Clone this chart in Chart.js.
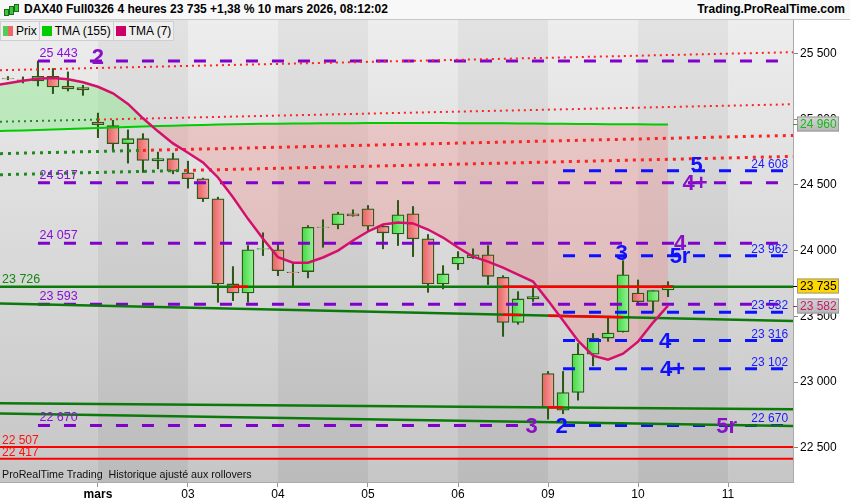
<!DOCTYPE html>
<html>
<head>
<meta charset="utf-8">
<script src="https://cdn.jsdelivr.net/npm/chart.js@4/dist/chart.umd.min.js"></script>
<style>
body { margin: 0; background: #fff; font-family: "Liberation Sans", Arial, sans-serif; }
#wrap { position: relative; width: 850px; height: 500px; overflow: hidden; }
#c { position: absolute; left: 0; top: 0; }
#head { position: absolute; left: 0; top: 0; width: 850px; height: 19px; background: #f8f8f8; border-bottom: 1px solid #c8c8c8; font-weight: bold; font-size: 12px; line-height: 19px; }
#title { position: absolute; left: 24px; top: 0; }
#site { position: absolute; right: 5px; top: 0; }
#ico { position: absolute; left: 4px; top: 4px; width: 15px; height: 12px; }
#ico i { position: absolute; width: 3px; background: #3c3; border: 1px solid #262; }
#leg { position: absolute; left: 0; top: 21px; height: 19px; display: flex; font-size: 12px; }
#leg div { height: 18px; line-height: 18px; padding: 0 2px 0 2px; background: #efefef; border: 1px solid #cfcfcf; border-left: none; display: flex; align-items: center; }
#leg div:first-child { border-left: 1px solid #cfcfcf; }
#leg i { display: inline-block; width: 10px; height: 10px; margin-right: 3px; }
#foot { position: absolute; left: 2px; top: 468px; font-size: 10.7px; white-space: pre; color: #111; }
</style>
</head>
<body>
<div id="wrap">
  <canvas id="c" width="850" height="500"></canvas>
  <div id="head">
    <span id="ico"><i style="left:0;top:5px;height:5px"></i><i style="left:5px;top:2px;height:7px"></i><i style="left:10px;top:0;height:6px"></i></span>
    <span id="title">DAX40 Full0326 4 heures 23 735 +1,38 % 10 mars 2026, 08:12:02</span>
    <span id="site">Trading.ProRealTime.com</span>
  </div>
  <div id="leg">
    <div><i style="background:linear-gradient(90deg,#5c5 50%,#e66 50%)"></i>Prix</div>
    <div><i style="background:#00cc00"></i>TMA (155)</div>
    <div><i style="background:#cc0066"></i>TMA (7)</div>
  </div>
  <div id="foot">ProRealTime Trading  Historique ajusté aux rollovers</div>
</div>
<script>
// 4h candles, index 0 = first bar on screen (ven. 27 fev)
const open  = [25310,25299,25291,25327,25251,25241, 24979,24951,24814,24852,24683,24700, 24593,24547,24395,23747,23678,24012,
               24006,23837,23841,24176,24197,24280, 24319,24186,24128,24280,24090,23747, 23899,23945,23968,23797,23454,23633,
               23065,22787,22921,23213,23335,23383, 23678,23614,23701];
const high  = [25325,25322,25443,25386,25360,25258, 25047,24992,24919,24890,24750,24742, 24681,24552,24407,23879,24039,24136,
               24046,23904,24191,24235,24293,24311, 24344,24192,24382,24336,24123,23886, 23993,24014,24039,23810,23688,23713,
               23081,23081,23294,23370,23488,23924, 23777,23696,23764];
const low   = [25300,25276,25253,25195,25215,25182, 24860,24763,24666,24595,24623,24585, 24476,24374,23607,23620,23607,23963,
               23810,23721,23793,24026,24166,24262, 24153,24014,24039,23955,23683,23709, 23856,23940,23742,23348,23440,23614,
               22718,22760,22863,23124,23310,23380, 23589,23530,23650];
const close = [25306,25296,25327,25245,25230,25223, 24959,24814,24852,24687,24701,24605, 24547,24395,23747,23678,24006,24016,
               23848,23833,24178,24180,24280,24265, 24186,24136,24273,24090,23747,23823, 23950,23968,23805,23454,23633,23650,
               22806,22921,23213,23335,23373,23816, 23612,23696,23735];

// moving averages, first value is the bar before index 0
const tmaStart = -1;
const tma7   = [25255, 25274,25293,25308,25314,25304,25281, 25247,25197,25117,25007,24908,24816, 24745,24671,24557,24407,24242,24090,
                23950,23909,23909,23948,24001,24077, 24146,24199,24214,24207,24161,24100, 24024,23955,23917,23871,23818,23765,
                23620,23468,23315,23201,23170,23216, 23308,23453,23582];
const tma155 = [24910, 24912,24915,24918,24921,24925,24929, 24933,24937,24941,24945,24948,24951, 24954,24957,24959,24961,24963,24965,
                24966,24967,24968,24969,24970,24970, 24971,24971,24971,24971,24971,24971, 24970,24970,24969,24969,24968,24967,
                24966,24965,24964,24963,24962,24962, 24961,24960,24960];

// x axis: day starts (bar index) and labels
const dayTicks  = [6, 12, 18, 24, 30, 36, 42, 48];
const dayLabels = ['mars', '03', '04', '05', '06', '09', '10', '11'];
const yTicks = [22500, 23000, 23500, 24000, 24500, 25000, 25500];

// dotted trend lines: price at left edge, right edge, bar where colour turns from green to red
const trendLeft   = [25373, 24981, 24738, 24578];
const trendRight  = [25510, 25114, 24877, 24717];
const trendSwitch = [null, 6, 9, 11.8];

// green support lines: left / right price
const supLeft  = [23726, 23599, 22840, 22761];
const supRight = [23726, 23464, 22794, 22667];
// red pieces drawn over them: [line, fromBar, toBar]
const supRed = [[0, 15, 16], [0, 33, 44.3], [1, 33, 34.2], [1, 36, 41], [2, 36, 37]];

const redLevels = [22507, 22417];

const purpleLevels = [25443, 24517, 24057, 23593, 22670];
const purpleEnd    = [51.5, 51.5, 51.5, 51.5, 35];
const blueLevels   = [24608, 23962, 23532, 23316, 23102, 22670];

// wave counts: text, bar, price, colour
const waveText  = ['2', '4+', '4', '5', '5r', '3', '4', '4+', '3', '2', '5r'];
const waveBar   = [6, 45.8, 44.8, 45.9, 44.8, 40.9, 43.8, 44.3, 34.9, 36.9, 47.9];
const wavePrice = [25475, 24517, 24057, 24649, 23962, 23985, 23316, 23102, 22670, 22670, 22670];
const waveBlue  = [false, false, false, true, true, true, true, true, false, true, false];

const X_MIN = -0.53, X_MAX = 52.33;
const PURPLE = '#8000cc', BLUE = '#0c12ff', DGREEN = '#0b7a0b';
const fmt = v => String(Math.round(v)).replace(/\B(?=(\d{3})+(?!\d))/g, ' ');

const bars = open.map((o, i) => i);
const lineAt = (l, r, k) => l + (r - l) * (k - X_MIN) / (X_MAX - X_MIN);

function candleFill(ctx) {
  const i = ctx.dataIndex;
  const up = close[i] >= open[i];
  const ch = ctx.chart;
  if (!ch.chartArea) return up ? '#66dd66' : '#f07a7a';
  const px = ch.scales.x.getPixelForValue(i);
  const g = ch.ctx.createLinearGradient(px - 6, 0, px + 6, 0);
  if (up) { g.addColorStop(0, '#3fdc3f'); g.addColorStop(1, '#9af09a'); }
  else { g.addColorStop(0, '#e95f5f'); g.addColorStop(1, '#f6a4a4'); }
  return g;
}

const datasets = [];

// TMA lines on top
datasets.push({
  type: 'line', label: 'TMA (7)', order: 1,
  data: tma7.map((v, i) => ({ x: i + tmaStart, y: v })),
  borderColor: '#d4106c', borderWidth: 2.5, pointRadius: 0, tension: 0,
  fill: { target: 1, above: 'rgba(140,235,140,0.45)', below: 'rgba(240,140,140,0.34)' }
});
datasets.push({
  type: 'line', label: 'TMA (155)', order: 2,
  data: tma155.map((v, i) => ({ x: i + tmaStart, y: v })),
  borderColor: '#00cc00', borderWidth: 2, pointRadius: 0, fill: false
});

// dotted trend lines
trendLeft.forEach((l, j) => {
  const r = trendRight[j];
  const pts = [{ x: X_MIN, y: l }];
  if (trendSwitch[j] !== null) pts.push({ x: trendSwitch[j], y: lineAt(l, r, trendSwitch[j]) });
  pts.push({ x: X_MAX, y: r });
  const big = j >= 2;
  datasets.push({
    type: 'line', order: 5, data: pts, pointRadius: 0, fill: false,
    borderWidth: big ? 3 : 2, borderDash: big ? [3, 5] : [2, 4],
    borderColor: '#ff2222',
    segment: { borderColor: c => (trendSwitch[j] !== null && c.p0DataIndex === 0) ? '#1f8a1f' : '#ff2222' }
  });
});

// green support lines + red pieces
supLeft.forEach((l, j) => {
  datasets.push({
    type: 'line', order: 5, data: [{ x: X_MIN, y: l }, { x: X_MAX, y: supRight[j] }],
    borderColor: DGREEN, borderWidth: 2.5, pointRadius: 0, fill: false
  });
});
supRed.forEach(([j, a, b]) => {
  datasets.push({
    type: 'line', order: 4,
    data: [{ x: a, y: lineAt(supLeft[j], supRight[j], a) }, { x: b, y: lineAt(supLeft[j], supRight[j], b) }],
    borderColor: '#ff0000', borderWidth: 2.5, pointRadius: 0, fill: false
  });
});

redLevels.forEach(v => {
  datasets.push({
    type: 'line', order: 5, data: [{ x: X_MIN, y: v }, { x: X_MAX, y: v }],
    borderColor: '#ff0000', borderWidth: 2, pointRadius: 0, fill: false
  });
});

purpleLevels.forEach((v, j) => {
  datasets.push({
    type: 'line', order: 5, data: [{ x: 2, y: v }, { x: purpleEnd[j], y: v }],
    borderColor: PURPLE, borderWidth: 3, borderDash: [12, 14], pointRadius: 0, fill: false
  });
});
blueLevels.forEach(v => {
  datasets.push({
    type: 'line', order: 5, data: [{ x: 37, y: v }, { x: 52.1, y: v }],
    borderColor: BLUE, borderWidth: 3, borderDash: [12, 14], pointRadius: 0, fill: false
  });
});

// candles: bodies then wicks
datasets.push({
  type: 'bar', order: 10, grouped: false,
  data: bars.map(i => ({ x: i, y: [open[i], close[i]] })),
  backgroundColor: candleFill, borderColor: '#2c5a16', borderWidth: 1.3,
  borderSkipped: false, barThickness: 12
});
datasets.push({
  type: 'bar', order: 11, grouped: false,
  data: bars.map(i => ({ x: i, y: [low[i], high[i]] })),
  backgroundColor: '#2c5a16', borderWidth: 0, barThickness: 1.4
});

const bgPlugin = {
  id: 'bg',
  beforeDraw(chart) {
    const { ctx, chartArea: a, scales: { x } } = chart;
    const edges = [X_MIN, ...dayTicks, X_MAX];
    ctx.save();
    for (let i = 0; i < edges.length - 1; i++) {
      const x0 = Math.max(a.left, x.getPixelForValue(edges[i]));
      const x1 = Math.min(a.right, x.getPixelForValue(edges[i + 1]));
      const g = ctx.createLinearGradient(0, a.top, 0, a.bottom);
      if (i % 2 === 0) { g.addColorStop(0, '#ededed'); g.addColorStop(1, '#c6c6c6'); }
      else { g.addColorStop(0, '#e2e2e2'); g.addColorStop(1, '#bbbbbb'); }
      ctx.fillStyle = g;
      ctx.fillRect(x0, a.top, x1 - x0, a.bottom - a.top);
    }
    ctx.restore();
  }
};

function txt(ctx, s, px, py, font, color, align, base) {
  ctx.font = font; ctx.fillStyle = color; ctx.textAlign = align; ctx.textBaseline = base;
  ctx.fillText(s, px, py);
}

const labelPlugin = {
  id: 'labels',
  afterDatasetsDraw(chart) {
    const { ctx, scales: { x, y } } = chart;
    const F = '"Liberation Sans", Arial, sans-serif';
    ctx.save();
    purpleLevels.forEach(v => txt(ctx, fmt(v), x.getPixelForValue(2.1), y.getPixelForValue(v) - 4, '12.5px ' + F, '#8a10d8', 'left', 'alphabetic'));
    blueLevels.forEach(v => txt(ctx, fmt(v), x.getPixelForValue(52.0), y.getPixelForValue(v) - 3, '12px ' + F, '#1a1aff', 'right', 'alphabetic'));
    txt(ctx, fmt(supLeft[0]), 2, y.getPixelForValue(supLeft[0]) - 4, '12.5px ' + F, '#108a10', 'left', 'alphabetic');
    redLevels.forEach(v => txt(ctx, fmt(v), 2, y.getPixelForValue(v) - 3, '12px ' + F, '#ff1010', 'left', 'alphabetic'));
    waveText.forEach((s, j) => txt(ctx, s, x.getPixelForValue(waveBar[j]), y.getPixelForValue(wavePrice[j]) + 1,
      'bold 22px ' + F, waveBlue[j] ? '#1010ff' : '#8a10c8', 'center', 'middle'));
    ctx.restore();
  },
  afterDraw(chart) {
    const { ctx, chartArea: a, scales: { y } } = chart;
    const F = '"Liberation Sans", Arial, sans-serif';
    const tags = [
      [tma155[tma155.length - 1], '#18b818', null],
      [close[close.length - 1], '#000000', '#ffd700'],
      [tma7[tma7.length - 1], '#cc1a6a', null]
    ];
    ctx.save();
    tags.forEach(([v, col, bg]) => {
      const py = Math.round(y.getPixelForValue(v));
      const x0 = a.right + 4, w = 42, h = 15;
      if (bg) ctx.fillStyle = bg;
      else {
        const g = ctx.createLinearGradient(0, py - 7, 0, py + 8);
        g.addColorStop(0, '#d4d4d4'); g.addColorStop(1, '#b4b4b4');
        ctx.fillStyle = g;
      }
      ctx.fillRect(x0, py - 7.5, w, h);
      ctx.strokeStyle = '#9a9a9a'; ctx.lineWidth = 1;
      ctx.strokeRect(x0 + 0.5, py - 7, w - 1, h - 1);
      ctx.strokeStyle = col; ctx.beginPath(); ctx.moveTo(a.right, py + 0.5); ctx.lineTo(x0, py + 0.5); ctx.stroke();
      txt(ctx, fmt(v), x0 + 3, py + 1, '12px ' + F, col, 'left', 'middle');
    });
    ctx.restore();
  }
};

new Chart(document.getElementById('c'), {
  type: 'bar',
  data: { datasets },
  options: {
    responsive: false,
    animation: false,
    devicePixelRatio: 1,
    layout: { padding: { top: 20, left: 0, right: 0, bottom: 0 } },
    plugins: {
      legend: { display: false },
      tooltip: { enabled: false },
      filler: { drawTime: 'beforeDatasetsDraw' }
    },
    scales: {
      x: {
        type: 'linear', min: X_MIN, max: X_MAX, offset: false,
        afterBuildTicks: s => { s.ticks = dayTicks.map(v => ({ value: v })); },
        afterFit: s => { s.height = 18; },
        ticks: {
          autoSkip: false, maxRotation: 0, padding: 0, color: '#000',
          callback: v => dayLabels[dayTicks.indexOf(v)],
          font: c => ({ family: '"Liberation Sans", Arial, sans-serif', size: 12, weight: c.tick && c.tick.value === 6 ? 'bold' : 'normal' })
        },
        grid: { drawOnChartArea: false, offset: false, tickLength: 5, color: '#999' },
        border: { color: '#aaa' }
      },
      y: {
        position: 'right', min: 22240, max: 25755,
        afterBuildTicks: s => { s.ticks = yTicks.map(v => ({ value: v })); },
        afterFit: s => { s.width = 57; },
        ticks: {
          color: '#000', padding: 2, callback: v => fmt(v),
          font: { family: '"Liberation Sans", Arial, sans-serif', size: 12 }
        },
        grid: { drawOnChartArea: false, tickLength: 5, color: '#888' },
        border: { color: '#aaa' }
      }
    }
  },
  plugins: [bgPlugin, labelPlugin]
});
</script>
</body>
</html>
